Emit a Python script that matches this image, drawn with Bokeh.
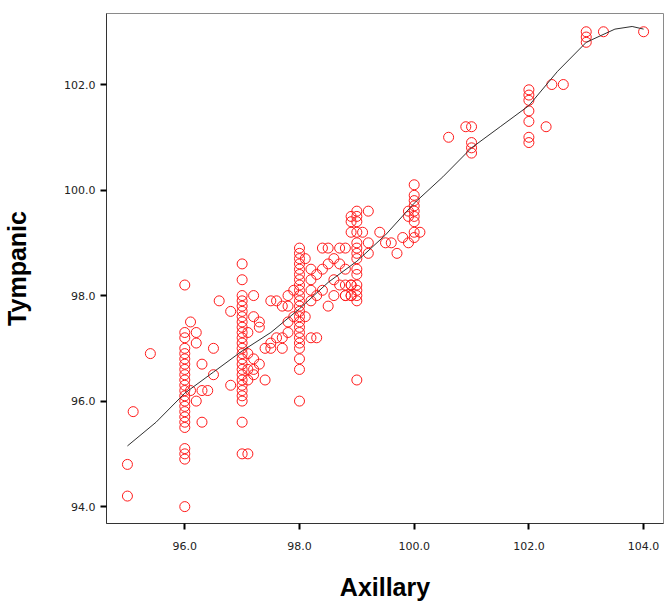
from bokeh.plotting import figure
from bokeh.models import Range1d, FixedTicker, NumeralTickFormatter
from bokeh.embed import file_html
from bokeh.resources import INLINE

# ---- data ----
axillary = [
    95.0, 95.0, 95.1, 95.4,
    # 96.0 column
    96.0, 96.0, 96.0, 96.0, 96.0, 96.0, 96.0, 96.0, 96.0, 96.0, 96.0, 96.0,
    96.0, 96.0, 96.0, 96.0, 96.0, 96.0, 96.0, 96.0, 96.0, 96.0, 96.0,
    # around 96
    96.1, 96.2, 96.2, 96.5, 96.6, 96.3, 96.5, 96.1, 96.3, 96.2, 96.3, 96.8, 96.8, 96.4,
    # 97.0 column
    97.0, 97.0, 97.0, 97.0, 97.0, 97.0, 97.0, 97.0, 97.0, 97.0, 97.0, 97.0, 97.0,
    97.0, 97.0, 97.0, 97.0, 97.0, 97.0, 97.0, 97.0, 97.0, 97.0, 97.0, 97.0, 97.1,
    # right of 97
    97.2, 97.2, 97.3, 97.2, 97.3, 97.4, 97.5, 97.5, 97.6, 97.1, 97.1, 97.2, 97.3,
    97.1, 97.2, 97.1,
    # left of 98
    97.8, 97.7, 97.5, 97.4, 97.9, 97.8, 97.8, 97.8, 97.7, 97.9, 97.6, 97.7,
    # 98.0 column
    98.0, 98.0, 98.0, 98.0, 98.0, 98.0, 98.0, 98.0, 98.0, 98.0, 98.0, 98.0,
    98.0, 98.0, 98.0, 98.0, 98.0, 98.0, 98.0, 98.0, 98.0, 98.0, 98.0,
    # right of 98
    98.2, 98.2, 98.2, 98.2, 98.1, 98.1, 98.2, 98.3, 98.4, 98.5, 98.7, 98.8,
    98.5, 98.6, 98.8, 98.9, 98.7, 98.9, 98.3, 98.4, 98.4, 98.6, 98.5, 98.6,
    98.7, 98.3,
    # 99.0 column
    99.0, 99.0, 99.0, 99.0, 99.0, 99.0, 99.0, 99.0, 99.0, 99.0, 99.0, 99.0,
    99.0, 99.0, 99.0,
    98.9, 98.9, 98.9, 98.9, 98.9, 99.2, 99.2, 99.2, 99.1, 98.8, 98.8, 98.8,
    # 99.4 - 100.1
    99.4, 99.5, 99.6, 99.7, 99.8, 99.9, 100.1, 99.9, 99.9,
    100.0, 100.0, 100.0, 100.0, 100.0, 100.0, 100.0, 100.0, 100.0,
    # 101
    100.6, 100.9, 101.0, 101.0, 101.0, 101.0,
    # 102 - 104
    102.0, 102.0, 102.0, 102.0, 102.0, 102.0, 102.0, 102.3, 102.4, 102.6,
    103.0, 103.0, 103.0, 103.3, 104.0,
]

tympanic = [
    94.8, 94.2, 95.8, 96.9,
    # 96.0 column
    98.2, 97.3, 97.2, 97.0, 96.9, 96.8, 96.7, 96.6, 96.5, 96.4, 96.3, 96.2,
    96.1, 96.0, 95.9, 95.8, 95.7, 95.6, 95.5, 95.1, 95.0, 94.9, 94.0,
    # around 96
    97.5, 97.3, 97.1, 97.0, 97.9, 96.7, 96.5, 96.2, 96.2, 96.0, 95.6, 97.7, 96.3, 96.2,
    # 97.0 column
    98.6, 98.3, 98.0, 97.9, 97.8, 97.7, 97.6, 97.5, 97.4, 97.3, 97.2, 97.1, 97.0,
    96.9, 96.8, 96.7, 96.6, 96.5, 96.4, 96.3, 96.2, 96.1, 96.0, 95.6, 95.0, 95.0,
    # right of 97
    98.0, 97.6, 97.5, 96.8, 96.7, 96.4, 97.9, 97.0, 97.2, 96.6, 96.9, 96.5, 97.4,
    97.3, 96.6, 96.4,
    # left of 98
    98.0, 97.0, 97.1, 97.0, 98.1, 97.8, 97.5, 97.3, 97.2, 97.6, 97.9, 97.8,
    # 98.0 column
    98.9, 98.8, 98.7, 98.6, 98.5, 98.4, 98.3, 98.2, 98.1, 98.0, 97.9, 97.8,
    97.7, 97.6, 97.5, 97.4, 97.3, 97.2, 97.1, 97.0, 96.8, 96.6, 96.0,
    # right of 98
    98.5, 98.3, 98.1, 97.9, 98.7, 97.6, 97.2, 97.2, 98.9, 98.9, 98.9, 98.9,
    98.6, 98.0, 98.0, 98.0, 98.2, 98.2, 98.4, 98.5, 98.1, 98.3, 97.8, 98.7,
    98.6, 98.0,
    # 99.0 column
    99.6, 99.5, 99.4, 99.2, 99.0, 98.9, 98.8, 98.7, 98.5, 98.4, 98.2, 98.1,
    98.0, 97.9, 96.4,
    99.5, 99.4, 99.2, 98.2, 98.0, 99.6, 99.0, 98.8, 99.2, 98.2, 98.0, 98.5,
    # 99.4 - 100.1
    99.2, 99.0, 99.0, 98.8, 99.1, 99.0, 99.2, 99.5, 99.6,
    100.1, 99.9, 99.8, 99.7, 99.6, 99.5, 99.4, 99.2, 99.1,
    # 101
    101.0, 101.2, 101.2, 100.9, 100.8, 100.7,
    # 102 - 104
    101.9, 101.8, 101.7, 101.5, 101.3, 101.0, 100.9, 101.2, 102.0, 102.0,
    103.0, 102.9, 102.8, 103.0, 103.0,
]

# smoothed fit line
fit_x = [95.0, 95.5, 96.0, 96.5, 97.0, 97.5, 98.0, 98.5, 99.0, 99.5,
         100.0, 100.5, 101.0, 101.5, 102.0, 102.5, 103.0, 103.5, 103.8, 104.0]
fit_y = [95.15, 95.6, 96.15, 96.55, 96.95, 97.3, 97.75, 98.25, 98.65, 99.15,
         99.75, 100.25, 100.8, 101.2, 101.6, 102.25, 102.8, 103.05, 103.1, 103.05]

x_ticks = [96, 98, 100, 102, 104]
y_ticks = [94, 96, 98, 100, 102]

# ---- figure ----
p = figure(width=665, height=603, output_backend="svg", toolbar_location=None,
           x_range=Range1d(94.635, 104.347), y_range=Range1d(93.68, 103.346),
           min_border_left=106, min_border_right=2, min_border_top=13,
           min_border_bottom=80)

p.scatter(axillary, tympanic, marker="circle", size=10, fill_color=None,
          line_color="#ff1a1a", line_width=1)
p.line(fit_x, fit_y, line_color="#303030", line_width=1)

p.xgrid.visible = False
p.ygrid.visible = False
p.outline_line_color = "#8a8a8a"
p.outline_line_width = 1
p.background_fill_color = "white"
p.border_fill_color = "white"

for ax, ticks in ((p.xaxis, x_ticks), (p.yaxis, y_ticks)):
    ax.ticker = FixedTicker(ticks=ticks)
    ax.formatter = NumeralTickFormatter(format="0.0")
    ax.minor_tick_line_color = None
    ax.major_tick_in = 0
    ax.major_tick_out = 6
    ax.major_tick_line_width = 2
    ax.major_tick_line_color = "black"
    ax.axis_line_color = "#333333"
    ax.axis_line_width = 1
    ax.major_label_text_font = "DejaVu Sans"
    ax.major_label_text_font_size = "11px"
    ax.major_label_text_color = "#222222"
    ax.axis_label_text_font = "Liberation Sans"
    ax.axis_label_text_font_size = "25px"
    ax.axis_label_text_font_style = "bold"
    ax.axis_label_text_color = "black"

p.xaxis.axis_label = "Axillary"
p.yaxis.axis_label = "Tympanic"
p.xaxis.major_label_standoff = 12
p.xaxis.axis_label_standoff = 20
p.yaxis.major_label_standoff = 5
p.yaxis.axis_label_standoff = 30

open("out.html", "w").write(file_html(p, INLINE))
